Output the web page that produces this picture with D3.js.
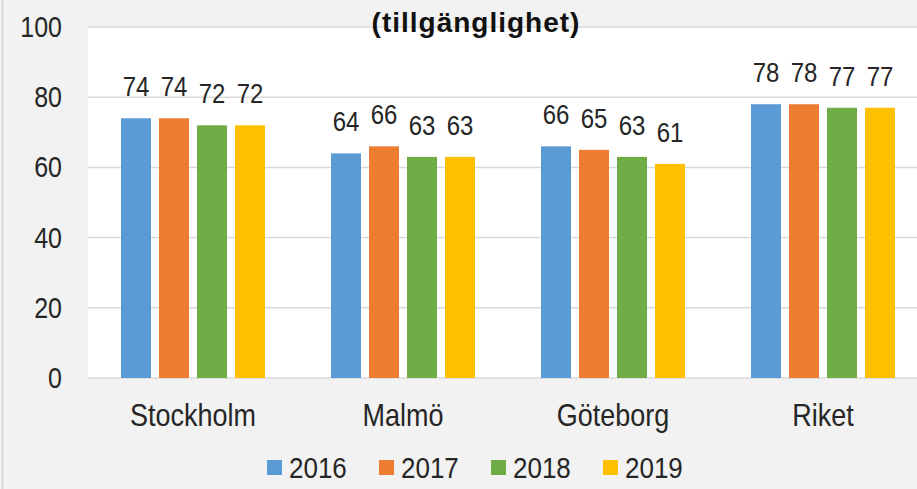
<!DOCTYPE html>
<html>
<head>
<meta charset="utf-8">
<script src="https://d3js.org/d3.v7.min.js"></script>
<style>
    html, body { margin: 0; padding: 0; background: #f2f2f2; }
    svg { display: block; }
    text { font-family: Arial, "Liberation Sans", sans-serif; fill: #262626; }
</style>
</head>
<body>
<svg id="chart" width="917" height="489"></svg>
<script>
// Data
const categories = ['Stockholm', 'Malmö', 'Göteborg', 'Riket'];
const years = ['2016', '2017', '2018', '2019'];
const values2016 = [74, 64, 66, 78];
const values2017 = [74, 66, 65, 78];
const values2018 = [72, 63, 63, 77];
const values2019 = [72, 63, 61, 77];
const yTicks = [0, 20, 40, 60, 80, 100];
const titleText = '(tillgänglighet)';

const series = [values2016, values2017, values2018, values2019];
const colors = ['#5B9BD5', '#ED7D31', '#70AD47', '#FFC000'];

const W = 917, H = 489;
const plot = { left: 88, right: 928, top: 26, bottom: 378 };
const stretch = 1.15; // text in the original looks a bit tall

const svg = d3.select('#chart');

// background + left border
svg.append('rect').attr('width', W).attr('height', H).attr('fill', '#f2f2f2');
svg.append('line')
    .attr('x1', 2.5).attr('x2', 2.5).attr('y1', 0).attr('y2', H)
    .attr('stroke', '#d4d4d4').attr('stroke-width', 1.5);

// plot area
svg.append('rect')
    .attr('x', plot.left).attr('y', plot.top)
    .attr('width', plot.right - plot.left).attr('height', plot.bottom - plot.top)
    .attr('fill', '#ffffff');

const y = d3.scaleLinear().domain([0, 100]).range([plot.bottom, 27]);
const x0 = d3.scaleBand().domain(categories).range([plot.left, plot.right]).padding(0);
const groupW = 144;
const x1 = d3.scaleBand().domain(years).range([0, groupW]).paddingInner(8 / 38).paddingOuter(0);
const groupOff = (x0.bandwidth() - groupW) / 2;

// place text at (x, baseline) with a slight vertical stretch
const place = (px, py) => `translate(${px},${py}) scale(1,${stretch})`;

// gridlines
svg.append('g')
    .selectAll('line')
    .data(yTicks)
    .enter().append('line')
    .attr('x1', plot.left).attr('x2', plot.right)
    .attr('y1', d => y(d)).attr('y2', d => y(d))
    .attr('stroke', '#d9d9d9').attr('stroke-width', 1.5);

// y tick labels
svg.append('g')
    .selectAll('text')
    .data(yTicks)
    .enter().append('text')
    .attr('transform', d => place(62, y(d) + 10))
    .attr('text-anchor', 'end')
    .attr('font-size', '25px')
    .text(d => d);

// bars
const rows = [];
categories.forEach((c, i) => {
    years.forEach((yr, j) => rows.push({ cat: c, year: yr, value: series[j][i], color: colors[j] }));
});

const gBars = svg.append('g');
gBars.selectAll('rect')
    .data(rows)
    .enter().append('rect')
    .attr('x', d => x0(d.cat) + groupOff + x1(d.year))
    .attr('y', d => y(d.value))
    .attr('width', x1.bandwidth())
    .attr('height', d => y(0) - y(d.value))
    .attr('fill', d => d.color);

// value labels
gBars.selectAll('text')
    .data(rows)
    .enter().append('text')
    .attr('transform', d => place(x0(d.cat) + groupOff + x1(d.year) + x1.bandwidth() / 2, y(d.value) - 22))
    .attr('text-anchor', 'middle')
    .attr('font-size', '24px')
    .text(d => d.value);

// category labels
svg.append('g')
    .selectAll('text')
    .data(categories)
    .enter().append('text')
    .attr('transform', d => place(x0(d) + x0.bandwidth() / 2, 426))
    .attr('text-anchor', 'middle')
    .attr('font-size', '27px')
    .text(d => d);

// title (second line, first one is cut off)
svg.append('text')
    .attr('x', 476)
    .attr('y', 32)
    .attr('text-anchor', 'middle')
    .attr('font-size', '28px')
    .attr('font-weight', 'bold')
    .attr('letter-spacing', '1px')
    .style('fill', '#111')
    .text(titleText);

// legend
const legend = svg.append('g')
    .selectAll('g')
    .data(years)
    .enter().append('g')
    .attr('transform', (d, i) => `translate(${267 + i * 112},0)`);

legend.append('rect')
    .attr('x', 0).attr('y', 460)
    .attr('width', 15).attr('height', 15)
    .attr('fill', (d, i) => colors[i]);

legend.append('text')
    .attr('transform', place(22, 478))
    .attr('font-size', '26px')
    .text(d => d);
</script>
</body>
</html>
